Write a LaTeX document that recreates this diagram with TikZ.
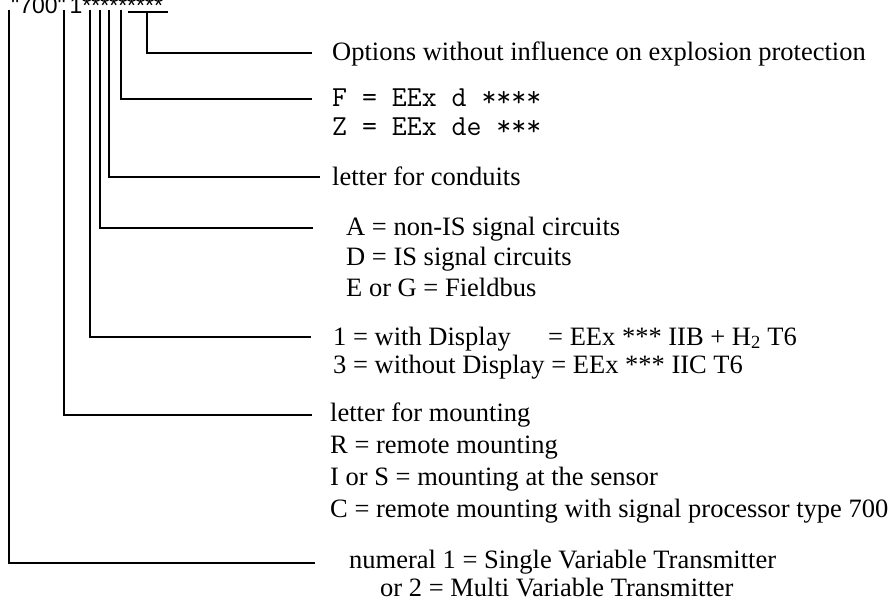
\documentclass[tikz,border=0pt]{standalone}
\usepackage{fontspec}
\setmainfont{Liberation Serif}
\newfontfamily\hdrfont{Liberation Sans}
\begin{document}
\begin{tikzpicture}[x=1pt,y=-1pt,
  lbl/.style={anchor=base west, inner sep=0pt, font=\fontsize{26.5}{31}\selectfont},
  mono/.style={anchor=base west, inner sep=0pt, font=\fontsize{29}{31}\ttfamily},
  conn/.style={line width=1.8pt}]
\useasboundingbox (0,0) rectangle (892,600);
% header (cut at top)
\node[anchor=base west, inner sep=0pt, font=\fontsize{23}{23}\hdrfont] (hdr) at (11,13) {"700"\,1*********};
% label texts
\node[lbl] (opt) at (332,60) {Options without influence on explosion protection};
\node[mono] (f) at (332,106) {F = EEx d ****};
\node[mono] (z) at (332,135) {Z = EEx de ***};
\node[lbl] (cond) at (332,185) {letter for conduits};
\node[lbl] (a) at (346,235) {A = non-IS signal circuits};
\node[lbl] (d) at (346,265) {D = IS signal circuits};
\node[lbl] (e) at (346,296) {E or G = Fieldbus};
\node[lbl] (d1) at (333,345) {1 = with Display};
\node[lbl] (d1b) at (548,345) {= EEx *** IIB + H\textsubscript{2} T6};
\node[lbl] (d3) at (333,373) {3 = without Display = EEx *** IIC T6};
\node[lbl] (m) at (330,421) {letter for mounting};
\node[lbl] (mr) at (330,453) {R = remote mounting};
\node[lbl] (mi) at (330,485) {I or S = mounting at the sensor};
\node[lbl] (mc) at (330,517) {C = remote mounting with signal processor type 700};
\node[lbl] (n1) at (349,568) {numeral 1 = Single Variable Transmitter};
\node[lbl] (n2) at (380,596) {or 2 = Multi Variable Transmitter};
% connector ends
\coordinate (t1) at (9,10);   \coordinate (e1) at (315,563);
\coordinate (t2) at (64,10);  \coordinate (e2) at (312,415);
\coordinate (t3) at (90,10);  \coordinate (e3) at (311,337);
\coordinate (t4) at (100,10); \coordinate (e4) at (313,228);
\coordinate (t5) at (109,10); \coordinate (e5) at (320,177);
\coordinate (t6) at (121,10); \coordinate (e6) at (312,99);
\coordinate (bl) at (128,12); \coordinate (br) at (168,12);
\coordinate (bm) at (147,12); \coordinate (e7) at (312,53);
\draw[conn] (t1) |- (e1);
\draw[conn] (t2) |- (e2);
\draw[conn] (t3) |- (e3);
\draw[conn] (t4) |- (e4);
\draw[conn] (t5) |- (e5);
\draw[conn] (t6) |- (e6);
\draw[conn] (bl) -- (br);
\draw[conn] (bm) |- (e7);
\end{tikzpicture}
\end{document}
